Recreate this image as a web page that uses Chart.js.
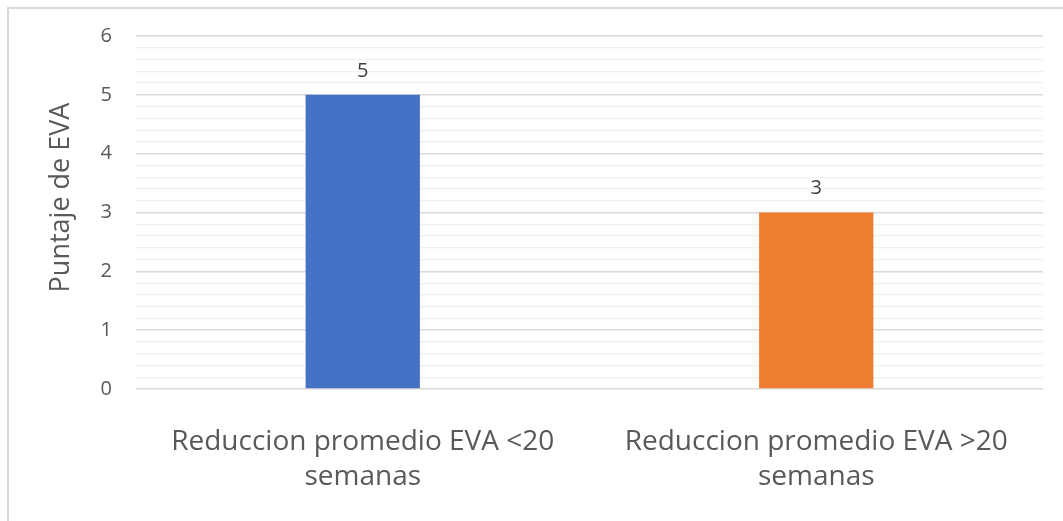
<!DOCTYPE html>
<html>
<head>
<meta charset="utf-8">
<script src="https://cdn.jsdelivr.net/npm/chart.js@4.4.0/dist/chart.umd.min.js"></script>
<style>
  html, body { margin: 0; padding: 0; background: #ffffff; overflow: hidden; }
  #wrap { position: absolute; left: 0; top: 0; width: 1063px; height: 521px; }
  #frame { position: absolute; left: 7px; top: 7px; width: 1070px; height: 530px;
           border-left: 2px solid #d9d9d9; border-top: 2px solid #d9d9d9; box-sizing: border-box; }
  canvas { position: absolute; left: 0; top: 0; }
</style>
</head>
<body>
<div id="wrap">
  <div id="frame"></div>
  <canvas id="chart" width="1063" height="521"></canvas>
</div>
<script>
// Average EVA score reduction by gestational age group
const categories = [
  ["Reduccion promedio EVA <20", "semanas"],
  ["Reduccion promedio EVA >20", "semanas"]
];
const scores = [5, 3];
const barColors = ["#4472C4", "#ED7D31"];
const yTitle = "Puntaje de EVA";
const yMin = 0;
const yMax = 6;

const FONT = "'Open Sans', sans-serif";
const TEXT = "#595959";

// Value labels above each bar, plus the rotated y-axis title
const annotations = {
  id: "annotations",
  afterDatasetsDraw(chart) {
    const ctx = chart.ctx;
    const meta = chart.getDatasetMeta(0);
    ctx.save();
    ctx.fillStyle = "#404040";
    ctx.font = "20px " + FONT;
    ctx.textAlign = "center";
    ctx.textBaseline = "bottom";
    meta.data.forEach((bar, i) => {
      ctx.fillText(String(scores[i]), bar.x, bar.y - 14);
    });
    ctx.restore();

    const area = chart.chartArea;
    ctx.save();
    ctx.fillStyle = TEXT;
    ctx.font = "27px " + FONT;
    ctx.textAlign = "center";
    ctx.textBaseline = "middle";
    ctx.translate(61, (area.top + area.bottom) / 2 - 15);
    ctx.rotate(-Math.PI / 2);
    ctx.fillText(yTitle, 0, 0);
    ctx.restore();
  }
};

new Chart(document.getElementById("chart"), {
  type: "bar",
  data: {
    labels: categories,
    datasets: [{
      data: scores,
      backgroundColor: barColors,
      borderWidth: 0,
      categoryPercentage: 1,
      barPercentage: 0.252
    }]
  },
  options: {
    responsive: false,
    animation: false,
    devicePixelRatio: 1,
    layout: { padding: { top: 36, right: 20, left: 0, bottom: 0 } },
    plugins: {
      legend: { display: false },
      tooltip: { enabled: false },
      title: { display: false }
    },
    scales: {
      x: {
        grid: { display: false },
        border: { display: false },
        ticks: {
          color: TEXT,
          font: { family: FONT, size: 28, lineHeight: 1.27 },
          padding: 27,
          maxRotation: 0,
          minRotation: 0
        },
        afterFit(scale) { scale.height = 132; }
      },
      y: {
        min: yMin,
        max: yMax,
        border: { display: false },
        grid: {
          drawTicks: false,
          color: ctx => (Math.abs(ctx.tick.value - Math.round(ctx.tick.value)) < 1e-6 ? "#d9d9d9" : "#f0f0f0"),
          lineWidth: ctx => (Math.abs(ctx.tick.value - Math.round(ctx.tick.value)) < 1e-6 ? 1.6 : 1.2)
        },
        ticks: {
          stepSize: 0.2,
          autoSkip: false,
          color: TEXT,
          font: { family: FONT, size: 20 },
          padding: 24,
          callback: v => (Math.abs(v - Math.round(v)) < 1e-6 ? String(Math.round(v)) : "")
        },
        afterFit(scale) { scale.width = 136; }
      }
    }
  },
  plugins: [annotations]
});
</script>
</body>
</html>
